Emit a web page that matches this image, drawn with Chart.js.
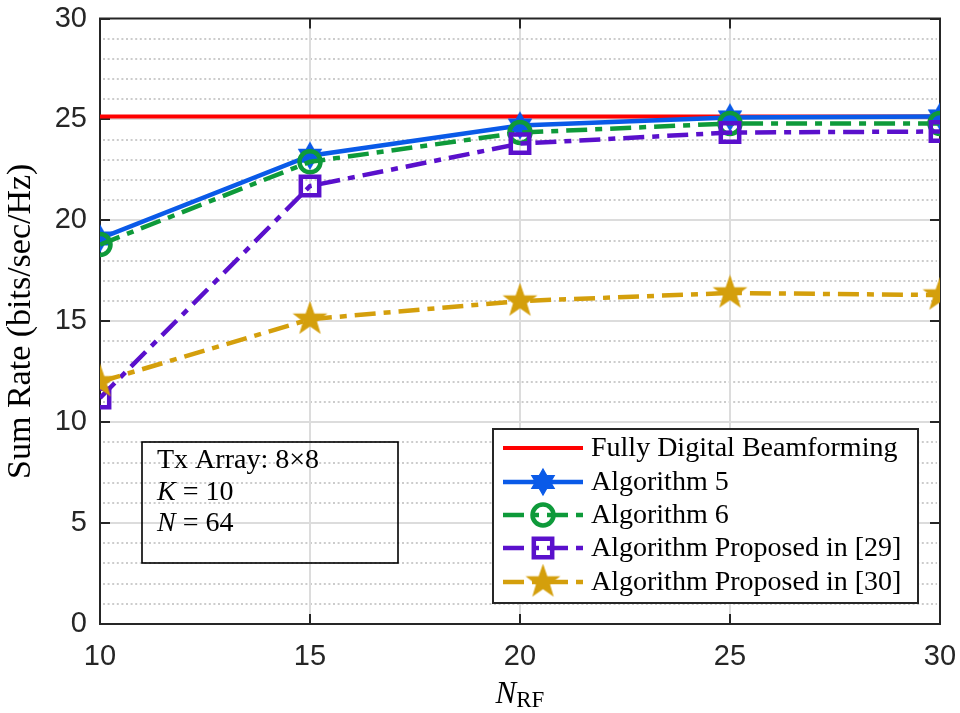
<!DOCTYPE html>
<html><head><meta charset="utf-8">
<script src="https://cdn.jsdelivr.net/npm/chart.js@4.4.1/dist/chart.umd.min.js"></script>
<style>html,body{margin:0;padding:0;background:#fff}</style>
</head><body>
<canvas id="c" width="960" height="713"></canvas>
<script>
// ---- data ----
const nRF = [10, 15, 20, 25, 30];
const fullyDigital = [25.15, 25.15, 25.15, 25.15, 25.15];
const algorithm5 = [19.1, 23.2, 24.7, 25.1, 25.15];
const algorithm6 = [18.8, 22.9, 24.35, 24.8, 24.8];
const proposed29 = [11.2, 21.7, 23.8, 24.35, 24.4];
const proposed30 = [12.0, 15.1, 16.0, 16.4, 16.3];
const xTicks = [10, 15, 20, 25, 30];
const yTicks = [0, 5, 10, 15, 20, 25, 30];
const seriesNames = ['Fully Digital Beamforming', 'Algorithm 5', 'Algorithm 6',
  'Algorithm Proposed in [29]', 'Algorithm Proposed in [30]'];
const yTitle = 'Sum Rate (bits/sec/Hz)';

// ---- styles ----
const C_RED = '#ff0000', C_BLUE = '#0a5ae8', C_GREEN = '#0e9a3a', C_PURPLE = '#5a10cc', C_GOLD = '#d49f0c';
const DASHDOT = [21, 8, 7, 8];
const SERIF = '"Liberation Serif", "Times New Roman", serif';
const SANS = '"Liberation Sans", Arial, Helvetica, sans-serif';

function starMarker(points, outer, inner, fill) {
  const s = Math.ceil(2 * outer + 4);
  const c = document.createElement('canvas'); c.width = s; c.height = s;
  const g = c.getContext('2d');
  g.translate(s / 2, s / 2);
  g.beginPath();
  for (let i = 0; i < 2 * points; i++) {
    const r = i % 2 === 0 ? outer : inner;
    const a = -Math.PI / 2 + i * Math.PI / points;
    g.lineTo(r * Math.cos(a), r * Math.sin(a));
  }
  g.closePath();
  g.fillStyle = fill; g.fill();
  g.lineWidth = 1.2; g.strokeStyle = fill; g.stroke();
  return c;
}
const hexagram = starMarker(6, 13, 7.5, C_BLUE);
const pentagram = starMarker(5, 16.5, 6.6, C_GOLD);

function pts(arr) { return nRF.map((x, i) => ({ x: x, y: arr[i] })); }

const datasets = [
  { label: seriesNames[0], data: pts(fullyDigital), borderColor: C_RED, borderWidth: 4, pointRadius: 0, order: 5 },
  { label: seriesNames[1], data: pts(algorithm5), borderColor: C_BLUE, borderWidth: 4.5, pointStyle: hexagram, pointRadius: 12, order: 4 },
  { label: seriesNames[2], data: pts(algorithm6), borderColor: C_GREEN, borderWidth: 4.5, borderDash: DASHDOT,
    pointStyle: 'circle', pointRadius: 10.5, pointBorderWidth: 4.5, pointBorderColor: C_GREEN, pointBackgroundColor: 'rgba(0,0,0,0)', order: 3 },
  { label: seriesNames[3], data: pts(proposed29), borderColor: C_PURPLE, borderWidth: 4.5, borderDash: DASHDOT,
    pointStyle: 'rect', pointRadius: 13, pointBorderWidth: 4.5, pointBorderColor: C_PURPLE, pointBackgroundColor: 'rgba(0,0,0,0)', order: 2 },
  { label: seriesNames[4], data: pts(proposed30), borderColor: C_GOLD, borderWidth: 4.5, borderDash: DASHDOT, pointStyle: pentagram, pointRadius: 14, order: 1 }
];
datasets.forEach(d => { d.fill = false; d.tension = 0; d.backgroundColor = d.borderColor; });

// ---- plugins ----
const gridPlugin = {
  id: 'matlabGrid',
  beforeDatasetsDraw(chart) {
    const { ctx, chartArea: a, scales: { x, y } } = chart;
    ctx.save();
    ctx.strokeStyle = '#bcbcbc'; ctx.lineWidth = 1.6; ctx.setLineDash([2, 2.6]);
    for (let v = y.min + 1; v < y.max; v++) {
      if (v % 5 === 0) continue;
      const py = Math.round(y.getPixelForValue(v));
      ctx.beginPath(); ctx.moveTo(a.left + 3, py); ctx.lineTo(a.right - 3, py); ctx.stroke();
    }
    ctx.setLineDash([]);
    ctx.strokeStyle = '#dcdcdc'; ctx.lineWidth = 2;
    yTicks.forEach(v => {
      if (v === y.min || v === y.max) return;
      const py = Math.round(y.getPixelForValue(v));
      ctx.beginPath(); ctx.moveTo(a.left, py); ctx.lineTo(a.right, py); ctx.stroke();
    });
    xTicks.forEach(v => {
      if (v === x.min || v === x.max) return;
      const px = Math.round(x.getPixelForValue(v));
      ctx.beginPath(); ctx.moveTo(px, a.top); ctx.lineTo(px, a.bottom); ctx.stroke();
    });
    ctx.strokeStyle = '#262626'; ctx.lineWidth = 2;
    ctx.strokeRect(a.left, a.top, a.right - a.left, a.bottom - a.top);
    const tl = 10;
    yTicks.forEach(v => {
      const py = Math.round(y.getPixelForValue(v));
      ctx.beginPath(); ctx.moveTo(a.left, py); ctx.lineTo(a.left + tl, py);
      ctx.moveTo(a.right, py); ctx.lineTo(a.right - tl, py); ctx.stroke();
    });
    xTicks.forEach(v => {
      const px = Math.round(x.getPixelForValue(v));
      ctx.beginPath(); ctx.moveTo(px, a.bottom); ctx.lineTo(px, a.bottom - tl);
      ctx.moveTo(px, a.top); ctx.lineTo(px, a.top + tl); ctx.stroke();
    });
    ctx.restore();
  }
};

function drawRuns(ctx, runs, x, y) {
  runs.forEach(r => {
    ctx.font = r.font;
    ctx.fillText(r.t, x, y + (r.dy || 0));
    x += ctx.measureText(r.t).width;
  });
  return x;
}

const overlayPlugin = {
  id: 'overlay',
  afterDraw(chart) {
    const { ctx, chartArea: a } = chart;
    ctx.save();
    ctx.fillStyle = '#000'; ctx.textBaseline = 'alphabetic'; ctx.textAlign = 'left';
    const fN = 'italic 31px ' + SERIF, fRF = '23px ' + SERIF;
    ctx.font = fN; const wN = ctx.measureText('N').width;
    ctx.font = fRF; const wRF = ctx.measureText('RF').width;
    const cx = (a.left + a.right) / 2;
    drawRuns(ctx, [{ t: 'N', font: fN }, { t: 'RF', font: fRF, dy: 4 }], cx - (wN + wRF) / 2, 703);

    // annotation box (transparent)
    ctx.strokeStyle = '#000'; ctx.lineWidth = 1.6;
    ctx.strokeRect(142, 442, 256, 121);
    const f = '28px ' + SERIF, fi = 'italic 28px ' + SERIF;
    ctx.textBaseline = 'middle';
    drawRuns(ctx, [{ t: 'Tx Array: 8\u00d78', font: f }], 157, 461);
    drawRuns(ctx, [{ t: 'K', font: fi }, { t: ' = 10', font: f }], 157, 493);
    drawRuns(ctx, [{ t: 'N', font: fi }, { t: ' = 64', font: f }], 157, 524);

    // legend
    const lx = 493, ly = 429, lw = 425, lh = 174;
    ctx.fillStyle = '#fff'; ctx.fillRect(lx, ly, lw, lh);
    ctx.strokeStyle = '#262626'; ctx.lineWidth = 2; ctx.strokeRect(lx, ly, lw, lh);
    const rows = [448, 482, 515, 548, 582];
    chart.data.datasets.forEach((d, i) => {
      const yy = rows[i];
      ctx.save();
      ctx.strokeStyle = d.borderColor; ctx.lineWidth = d.borderWidth;
      ctx.setLineDash(d.borderDash || []);
      ctx.beginPath(); ctx.moveTo(503, yy); ctx.lineTo(583, yy); ctx.stroke();
      ctx.setLineDash([]);
      if (d.pointRadius > 0) {
        if (typeof d.pointStyle === 'string') {
          ctx.lineWidth = d.pointBorderWidth; ctx.strokeStyle = d.pointBorderColor;
          ctx.beginPath();
          if (d.pointStyle === 'circle') ctx.arc(543, yy, d.pointRadius, 0, Math.PI * 2);
          else { const h = d.pointRadius * Math.SQRT1_2; ctx.rect(543 - h, yy - h, 2 * h, 2 * h); }
          ctx.stroke();
        } else {
          ctx.drawImage(d.pointStyle, 543 - d.pointStyle.width / 2, yy - d.pointStyle.height / 2);
        }
      }
      ctx.restore();
      ctx.fillStyle = '#000'; ctx.textBaseline = 'middle'; ctx.textAlign = 'left';
      ctx.font = '28px ' + SERIF;
      ctx.fillText(d.label, 591, yy + 1);
    });
    ctx.restore();
  }
};

new Chart(document.getElementById('c'), {
  type: 'line',
  data: { datasets: datasets },
  options: {
    responsive: false, animation: false, devicePixelRatio: 1,
    layout: { padding: { top: 17, right: 20, left: 0, bottom: 0 } },
    plugins: { legend: { display: false }, tooltip: { enabled: false } },
    scales: {
      x: {
        type: 'linear', min: 10, max: 30,
        afterBuildTicks: s => { s.ticks = xTicks.map(v => ({ value: v })); },
        afterFit: s => { s.height = 89; s.paddingLeft = 0; s.paddingRight = 0; },
        grid: { display: false, drawTicks: false }, border: { display: false },
        ticks: { font: { family: SANS, size: 29 }, color: '#262626', padding: 16, maxRotation: 0 }
      },
      y: {
        type: 'linear', min: 0, max: 30,
        afterBuildTicks: s => { s.ticks = yTicks.map(v => ({ value: v })); },
        afterFit: s => { s.width = 100; s.paddingTop = 0; s.paddingBottom = 0; },
        grid: { display: false, drawTicks: false }, border: { display: false },
        ticks: { font: { family: SANS, size: 29 }, color: '#262626', padding: 13 },
        title: { display: true, text: yTitle, color: '#000', font: { family: SERIF, size: 34 }, padding: { top: 1, bottom: 0 } }
      }
    }
  },
  plugins: [gridPlugin, overlayPlugin]
});
</script>
</body></html>
